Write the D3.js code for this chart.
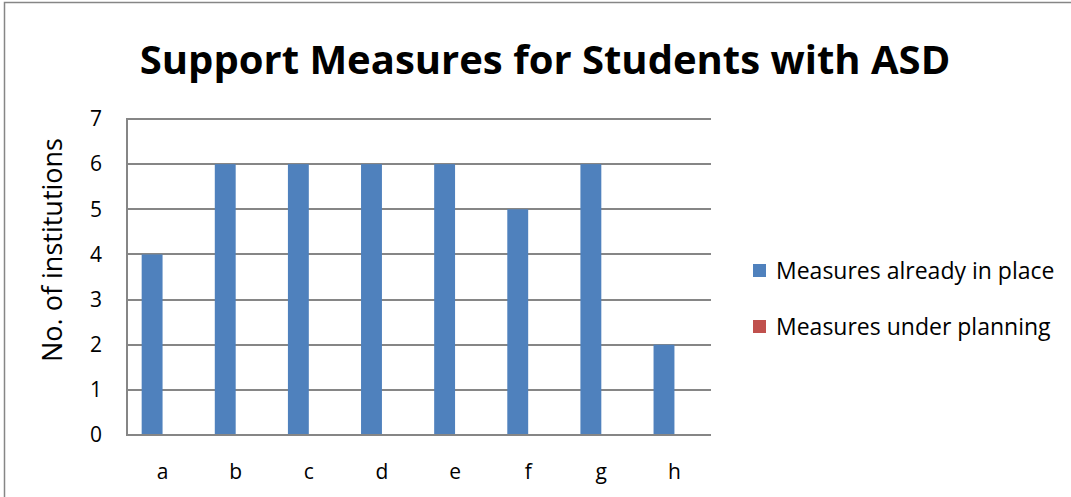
<!DOCTYPE html>
<html>
<head>
<meta charset="utf-8">
<script src="https://cdn.jsdelivr.net/npm/d3@7"></script>
<style>
  body { margin: 0; background: #fff; }
  text { font-family: "Open Sans", "Noto Sans", sans-serif; fill: #000; }
</style>
</head>
<body>
<div id="chart"></div>
<script>
// Chart data
const categories = ['a', 'b', 'c', 'd', 'e', 'f', 'g', 'h'];
const seriesNames = ['Measures already in place', 'Measures under planning'];
const inPlace = [4, 6, 6, 6, 6, 5, 6, 2];
const underPlanning = [0, 0, 0, 0, 0, 0, 0, 0];
const yTicks = [0, 1, 2, 3, 4, 5, 6, 7];
const colors = ['#4F81BD', '#C0504D'];

const width = 1071, height = 497;
const plot = { left: 126, right: 711, top: 119, bottom: 435 };

const svg = d3.select('#chart').append('svg')
    .attr('width', width)
    .attr('height', height);

// Outer chart border
svg.append('rect')
    .attr('x', 4.5).attr('y', 2.5)
    .attr('width', width + 10).attr('height', height + 10)
    .attr('fill', 'none')
    .attr('stroke', '#868686')
    .attr('stroke-width', 1.5);

const x = d3.scaleBand()
    .domain(categories)
    .range([plot.left, plot.right]);

const y = d3.scaleLinear()
    .domain([0, 7])
    .range([plot.bottom, plot.top]);

// bar width as in Excel with gap width 150%
const barW = x.bandwidth() / 3.5;
const x1 = d3.scaleBand()
    .domain(seriesNames)
    .range([x.bandwidth() / 2 - barW, x.bandwidth() / 2 + barW]);

// Gridlines
svg.append('g')
    .selectAll('line')
    .data(yTicks.filter(d => d > 0))
    .enter().append('line')
    .attr('x1', plot.left).attr('x2', plot.right)
    .attr('y1', d => Math.round(y(d)))
    .attr('y2', d => Math.round(y(d)))
    .attr('stroke', '#868686')
    .attr('stroke-width', 2);

// Bars
const rows = categories.map((c, i) => ({ cat: c, values: [inPlace[i], underPlanning[i]] }));
const groups = svg.append('g')
    .selectAll('g')
    .data(rows)
    .enter().append('g')
    .attr('transform', d => `translate(${x(d.cat)},0)`);

groups.selectAll('rect')
    .data(d => d.values.map((v, j) => ({ name: seriesNames[j], value: v, color: colors[j] })))
    .enter().append('rect')
    .attr('x', d => x1(d.name))
    .attr('width', x1.bandwidth())
    .attr('y', d => y(d.value))
    .attr('height', d => y(0) - y(d.value))
    .attr('fill', d => d.color);

// Axes lines
svg.append('line')
    .attr('x1', plot.left + 1).attr('x2', plot.left + 1)
    .attr('y1', plot.top - 1).attr('y2', plot.bottom + 1)
    .attr('stroke', '#868686')
    .attr('stroke-width', 2);
svg.append('line')
    .attr('x1', plot.left).attr('x2', plot.right)
    .attr('y1', plot.bottom).attr('y2', plot.bottom)
    .attr('stroke', '#868686')
    .attr('stroke-width', 2);

// Y tick labels
svg.append('g')
    .selectAll('text')
    .data(yTicks)
    .enter().append('text')
    .attr('x', 102)
    .attr('y', d => y(d))
    .attr('dy', '0.35em')
    .attr('text-anchor', 'end')
    .attr('font-size', '21px')
    .text(d => d);

// X tick labels
svg.append('g')
    .selectAll('text')
    .data(categories)
    .enter().append('text')
    .attr('x', d => x(d) + x.bandwidth() / 2)
    .attr('y', 479)
    .attr('text-anchor', 'middle')
    .attr('font-size', '21px')
    .text(d => d);

// Title
svg.append('text')
    .attr('x', 545)
    .attr('y', 74)
    .attr('text-anchor', 'middle')
    .attr('font-size', '40px')
    .attr('font-weight', 'bold')
    .text('Support Measures for Students with ASD');

// Y axis title
svg.append('text')
    .attr('transform', 'translate(62,250) rotate(-90)')
    .attr('text-anchor', 'middle')
    .attr('font-size', '27px')
    .text('No. of institutions');

// Legend
const legend = svg.append('g')
    .selectAll('g')
    .data(seriesNames)
    .enter().append('g')
    .attr('transform', (d, i) => `translate(753,${264 + i * 56})`);

legend.append('rect')
    .attr('width', 13).attr('height', 13)
    .attr('fill', (d, i) => colors[i]);

legend.append('text')
    .attr('x', 23)
    .attr('y', 7)
    .attr('dy', '0.35em')
    .attr('font-size', '23px')
    .text(d => d);
</script>
</body>
</html>
